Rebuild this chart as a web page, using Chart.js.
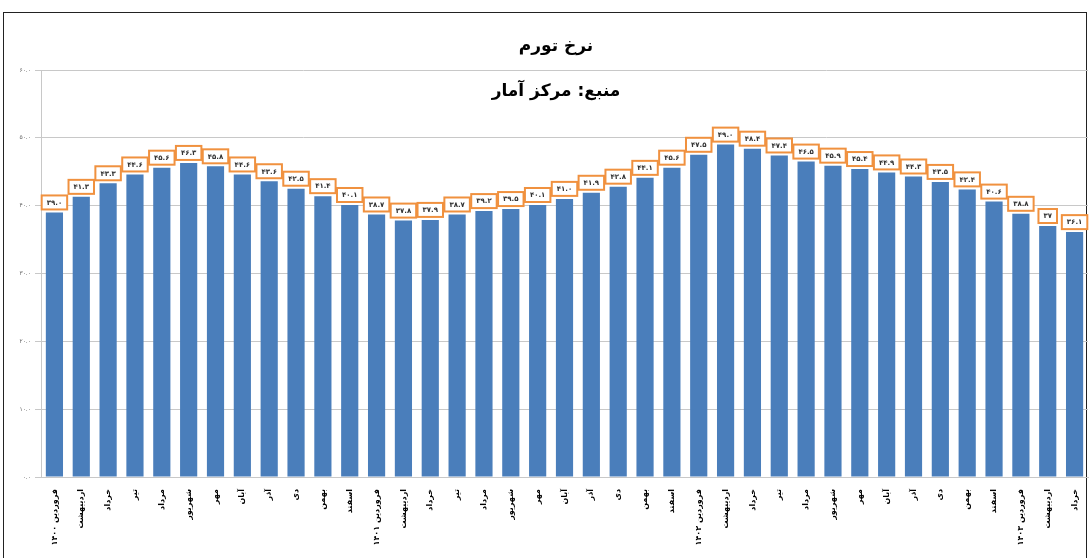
<!DOCTYPE html>
<html>
<head>
<meta charset="utf-8">
<script src="https://cdn.jsdelivr.net/npm/chart.js@4.4.1/dist/chart.umd.min.js"></script>
<style>
  body { margin: 0; background: #fff; }
  #frame { position: absolute; left: 3px; top: 12px; width: 1082px; height: 560px; border: 1.5px solid #222; }
  #inflationChart { position: absolute; left: 0; top: 0; }
</style>
</head>
<body>
<div id="frame"></div>
<canvas id="inflationChart" width="1090" height="558"></canvas>
<script>
// chart data
const months = ['فروردین', 'اردیبهشت', 'خرداد', 'تیر', 'مرداد', 'شهریور', 'مهر', 'آبان', 'آذر', 'دی', 'بهمن', 'اسفند'];
const years = ['۱۴۰۰', '۱۴۰۱', '۱۴۰۲', '۱۴۰۳'];
const inflation = [
    39.0, 41.3, 43.3, 44.6, 45.6, 46.3, 45.8, 44.6, 43.6, 42.5, 41.4, 40.1,
    38.7, 37.8, 37.9, 38.7, 39.2, 39.5, 40.1, 41.0, 41.9, 42.8, 44.1, 45.6,
    47.5, 49.0, 48.4, 47.4, 46.5, 45.9, 45.4, 44.9, 44.3, 43.5, 42.4, 40.6,
    38.8, 37, 36.1
];
// bars whose label is printed without a decimal in the source
const noDecimal = [37];
const yTicks = [0, 10, 20, 30, 40, 50, 60];

const labels = inflation.map(function(v, i) {
    const m = months[i % 12];
    return i % 12 === 0 ? m + ' ' + years[i / 12] : m;
});

// latin digits -> persian digits
function fa(str) {
    return String(str).replace(/[0-9]/g, function(d) { return '۰۱۲۳۴۵۶۷۸۹'[d]; });
}

const FONT = '"DejaVu Sans", sans-serif';

// orange boxed value labels above the bars
const boxLabels = {
    id: 'boxLabels',
    afterDatasetsDraw(chart) {
        const ctx = chart.ctx;
        const meta = chart.getDatasetMeta(0);
        ctx.save();
        ctx.font = 'bold 7px ' + FONT;
        ctx.textAlign = 'center';
        ctx.textBaseline = 'middle';
        meta.data.forEach(function(bar, i) {
            const v = inflation[i];
            const txt = fa(noDecimal.indexOf(i) >= 0 ? String(v) : v.toFixed(1));
            const w = Math.max(16, ctx.measureText(txt).width + 10), h = 14;
            const x = bar.x - w / 2, y = bar.y - h - 3;
            ctx.fillStyle = '#fff';
            ctx.fillRect(x, y, w, h);
            ctx.strokeStyle = '#F0913F';
            ctx.lineWidth = 2;
            ctx.strokeRect(x, y, w, h);
            ctx.fillStyle = '#333';
            ctx.fillText(txt, bar.x, y + h / 2 + 0.5);
        });
        ctx.restore();
    }
};

// the two title lines sit over the top gridline
const titles = {
    id: 'titles',
    afterDraw(chart) {
        const ctx = chart.ctx;
        ctx.save();
        ctx.fillStyle = '#000';
        ctx.textAlign = 'center';
        ctx.textBaseline = 'middle';
        ctx.direction = 'rtl';
        ctx.font = 'bold 17px ' + FONT;
        ctx.fillText('نرخ تورم', 556, 47);
        ctx.fillText('منبع: مرکز آمار', 556, 92);
        ctx.restore();
    }
};

const ctx = document.getElementById('inflationChart').getContext('2d');
new Chart(ctx, {
    type: 'bar',
    data: {
        labels: labels,
        datasets: [{
            data: inflation,
            backgroundColor: '#4A7EBB',
            barPercentage: 0.64,
            categoryPercentage: 1.0
        }]
    },
    options: {
        responsive: false,
        animation: false,
        layout: { padding: { top: 70, right: 2, left: 0, bottom: 0 } },
        plugins: {
            legend: { display: false },
            tooltip: { enabled: false }
        },
        scales: {
            x: {
                grid: { display: false },
                border: { color: '#c8c8c8' },
                ticks: {
                    autoSkip: false,
                    minRotation: 90,
                    maxRotation: 90,
                    color: '#000',
                    padding: 4,
                    font: { family: FONT, size: 8, weight: 'bold' }
                },
                afterFit: function(s) { s.height = 81; }
            },
            y: {
                min: 0,
                max: 60,
                afterBuildTicks: function(s) { s.ticks = yTicks.map(function(v) { return { value: v }; }); },
                grid: { color: '#c8c8c8', tickLength: 6 },
                border: { color: '#c8c8c8' },
                ticks: {
                    color: '#666',
                    padding: 4,
                    font: { family: FONT, size: 6 },
                    callback: function(v) { return fa(Number(v).toFixed(1)); }
                },
                afterFit: function(s) { s.width = 41; }
            }
        }
    },
    plugins: [boxLabels, titles]
});
</script>
</body>
</html>
